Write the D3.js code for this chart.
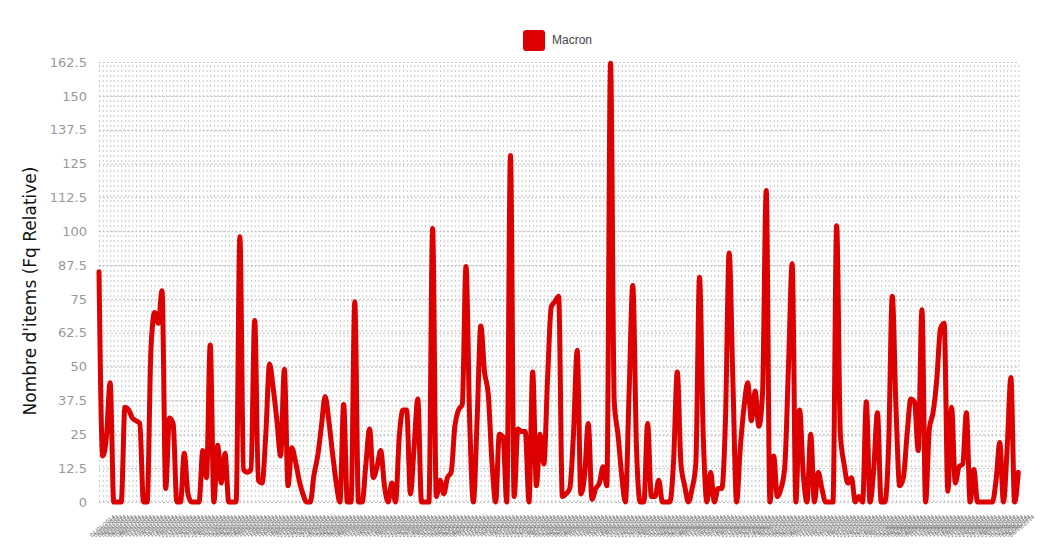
<!DOCTYPE html>
<html><head><meta charset="utf-8">
<script src="https://cdn.jsdelivr.net/npm/d3@7"></script>
<style>body{margin:0;background:#fff} svg{display:block}</style>
</head><body><svg id="c" width="1054" height="552"></svg>
<script>
const seriesName = "Macron";
const yTitle = "Nombre d'items (Fq Relative)";
const yTicks = [0, 12.5, 25, 37.5, 50, 62.5, 75, 87.5, 100, 112.5, 125, 137.5, 150, 162.5];
const values = [
85,17,24,44,0,0,0,35,34,31,30,29,0,0,56,70,66,78,5,31,
29,0,0,18,3,0,0,0,19,9,58,0,21,7,18,0,0,0,98,12,
11,12,67,8,7,25,51,42,30,17,49,6,20,15,8,3,0,0,10,17,
28,39,30,18,7,0,36,0,0,74,0,0,14,27,9,13,19,6,0,7,
0,24,34,34,3,20,38,0,0,0,101,2,8,3,9,11,28,34,36,87,
30,0,30,65,48,40,15,0,25,24,0,128,2,27,26,26,0,48,6,25,
14,45,72,74,76,2,3,5,25,56,3,10,29,1,5,7,13,6,162,37,
25,10,0,40,80,20,0,0,29,2,2,8,0,0,0,15,48,14,6,0,
5,14,83,25,0,11,0,5,5,30,92,45,0,20,35,44,30,41,28,40,
115,0,17,2,5,13,50,88,0,34,10,0,25,0,11,5,0,0,0,102,
25,14,7,9,0,2,0,37,0,12,33,0,0,20,76,35,6,9,25,38,
37,19,71,0,27,33,45,64,66,4,35,7,13,14,33,0,12,0,0,0,
0,0,8,22,0,20,46,0,11
];
const firstDay = new Date(2014, 0, 1);
const categories = d3.timeDay.range(firstDay, d3.timeDay.offset(firstDay, values.length)).map(d3.timeFormat("%d/%m/%Y"));

const svg = d3.select("#c");
const L = 99, R = 1018.3, T = 62, B = 502;
const x = d3.scalePoint().domain(categories).range([L, R]);
const y = d3.scaleLinear().domain([0, 162.5]).range([B, T]);

// vertical grid + x labels
const gx = svg.append("g").attr("transform", `translate(0,${B})`)
  .call(d3.axisBottom(x).tickSize(-(B - T)).tickPadding(6));
gx.select(".domain").remove();
gx.selectAll(".tick line").attr("stroke", "#c8c8c8").attr("stroke-dasharray", "2,3");
gx.selectAll(".tick text")
  .attr("fill", "#666").style("font", "5.4px 'DejaVu Sans'")
  .attr("text-anchor", "middle")
  .attr("y", 0).attr("x", 0).attr("dy", "0.35em")
  .attr("transform", "translate(3,24) rotate(-40)");

// horizontal grid + y labels
const gy = svg.append("g").attr("transform", `translate(${L},0)`)
  .call(d3.axisLeft(y).tickValues(yTicks).tickSize(-(R - L)).tickPadding(12).tickFormat(d => String(d)));
gy.select(".domain").remove();
gy.selectAll(".tick line").attr("stroke", "#c0c0c0").attr("stroke-dasharray", "2,2");
gy.selectAll(".tick text").attr("fill", "#999").style("font", "13px 'DejaVu Sans'");

// line
const line = d3.line().x((d, i) => x(categories[i])).y(d => y(d)).curve(d3.curveMonotoneX);
svg.append("path").datum(values).attr("d", line)
  .attr("fill", "none").attr("stroke", "#dc0000").attr("stroke-width", 5)
  .attr("stroke-linejoin", "round").attr("stroke-linecap", "round");

// y title
svg.append("text").attr("transform", "translate(36,291) rotate(-90)")
  .attr("text-anchor", "middle").style("font", "17px 'DejaVu Sans'").attr("fill", "#111").text(yTitle);

// legend
svg.append("rect").attr("x", 523).attr("y", 30).attr("width", 22).attr("height", 21).attr("rx", 3).attr("fill", "#dc0000");
svg.append("text").attr("x", 552).attr("y", 44).style("font", "12px 'Liberation Sans'").attr("fill", "#444").text(seriesName);
</script></body></html>
